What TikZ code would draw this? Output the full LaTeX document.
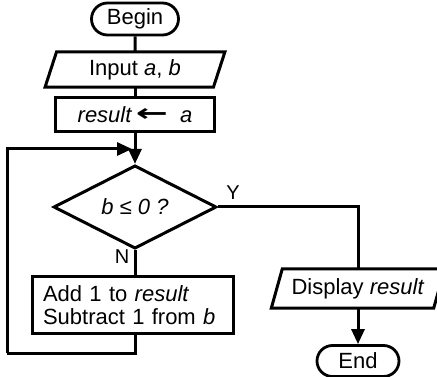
\documentclass[tikz,border=0pt]{standalone}
\usepackage{fontspec}
\usepackage{graphicx}
\setmainfont{Liberation Sans}
\newfontfamily\arrowfont{DejaVu Sans}
\usetikzlibrary{arrows.meta,calc,shapes.geometric,shapes.misc}

\tikzset{
  line/.style={line width=3pt},
  arr/.style={line, -{Triangle[length=15pt,width=13pt]}},
  lbl/.style={font=\fontsize{22}{25}\selectfont, inner sep=0pt},
  term/.style={lbl, draw, line width=2.8pt, rounded rectangle, minimum height=31pt},
  proc/.style={lbl, draw, line width=3pt, rectangle},
  iobody/.style={lbl, rectangle},
  decision/.style={lbl, draw, line width=3pt, diamond, minimum width=163pt, minimum height=72pt}
}

\begin{document}
\begin{tikzpicture}[x=1pt,y=-1pt]
  \useasboundingbox (0,0) rectangle (437,377);

  % main column
  \node[term, minimum width=87pt, minimum height=32pt] (begin) at (135,19) {Begin};
  \node[iobody, minimum width=168pt, minimum height=35pt] (inp) at (135,69.5) {Input \textit{a}, \textit{b}};
  \draw[line] ($(inp.south west)+(-5.75,0)$) -- ($(inp.south east)+(-5.75,0)$)
           -- ($(inp.north east)+(5.75,0)$) -- ($(inp.north west)+(5.75,0)$) -- cycle;
  \node[proc, minimum width=159pt, minimum height=34pt] (res) at (135,115)
        {\textit{result}\,\raisebox{1pt}{\scalebox{1.6}[1]{\arrowfont\bfseries\fontsize{24}{24}\selectfont ←}}\hspace{12pt}\textit{a}};
  \node[decision] (dec) at (135,207) {\textit{b} ≤ \textit{0 ?}};
  \node[proc, text width=179pt, inner xsep=11pt, align=left, minimum height=56pt,
        font=\fontsize{22}{23.5}\selectfont] (add) at (132.5,305)
        {Add 1 to \textit{result}\\Subtract 1 from \textit{b}};

  % output column
  \node[iobody, minimum width=162pt, minimum height=39pt] (disp) at (358,288.5) {Display \textit{result}};
  \draw[line] ($(disp.south west)+(-5.5,0)$) -- ($(disp.south east)+(-5.5,0)$)
           -- ($(disp.north east)+(5.5,0)$) -- ($(disp.north west)+(5.5,0)$) -- cycle;
  \node[term, minimum width=82pt] (end) at (358,361) {End};

  % branch labels
  \node[lbl, font=\fontsize{20}{22}\selectfont] (yes) at (233,193) {Y};
  \node[lbl, font=\fontsize{20}{22}\selectfont] (no) at (122,257) {N};

  % loop points
  \coordinate (mg) at (132,149);
  \coordinate (lp) at (7,353);

  % connectors
  \draw[line] (begin) -- (inp.north);
  \draw[line] (inp.south) -- (res.north);
  \draw[arr] (res.south) -- (dec.north);
  \draw[line] (dec.south) -- (dec.south |- add.north);
  \draw[line] (add.south -| dec.south) |- (lp);
  \draw[arr] (lp) |- (mg);
  \draw[line] (dec.east) -| (disp.north);
  \draw[arr] (disp.south) -- (end.north);
\end{tikzpicture}
\end{document}
